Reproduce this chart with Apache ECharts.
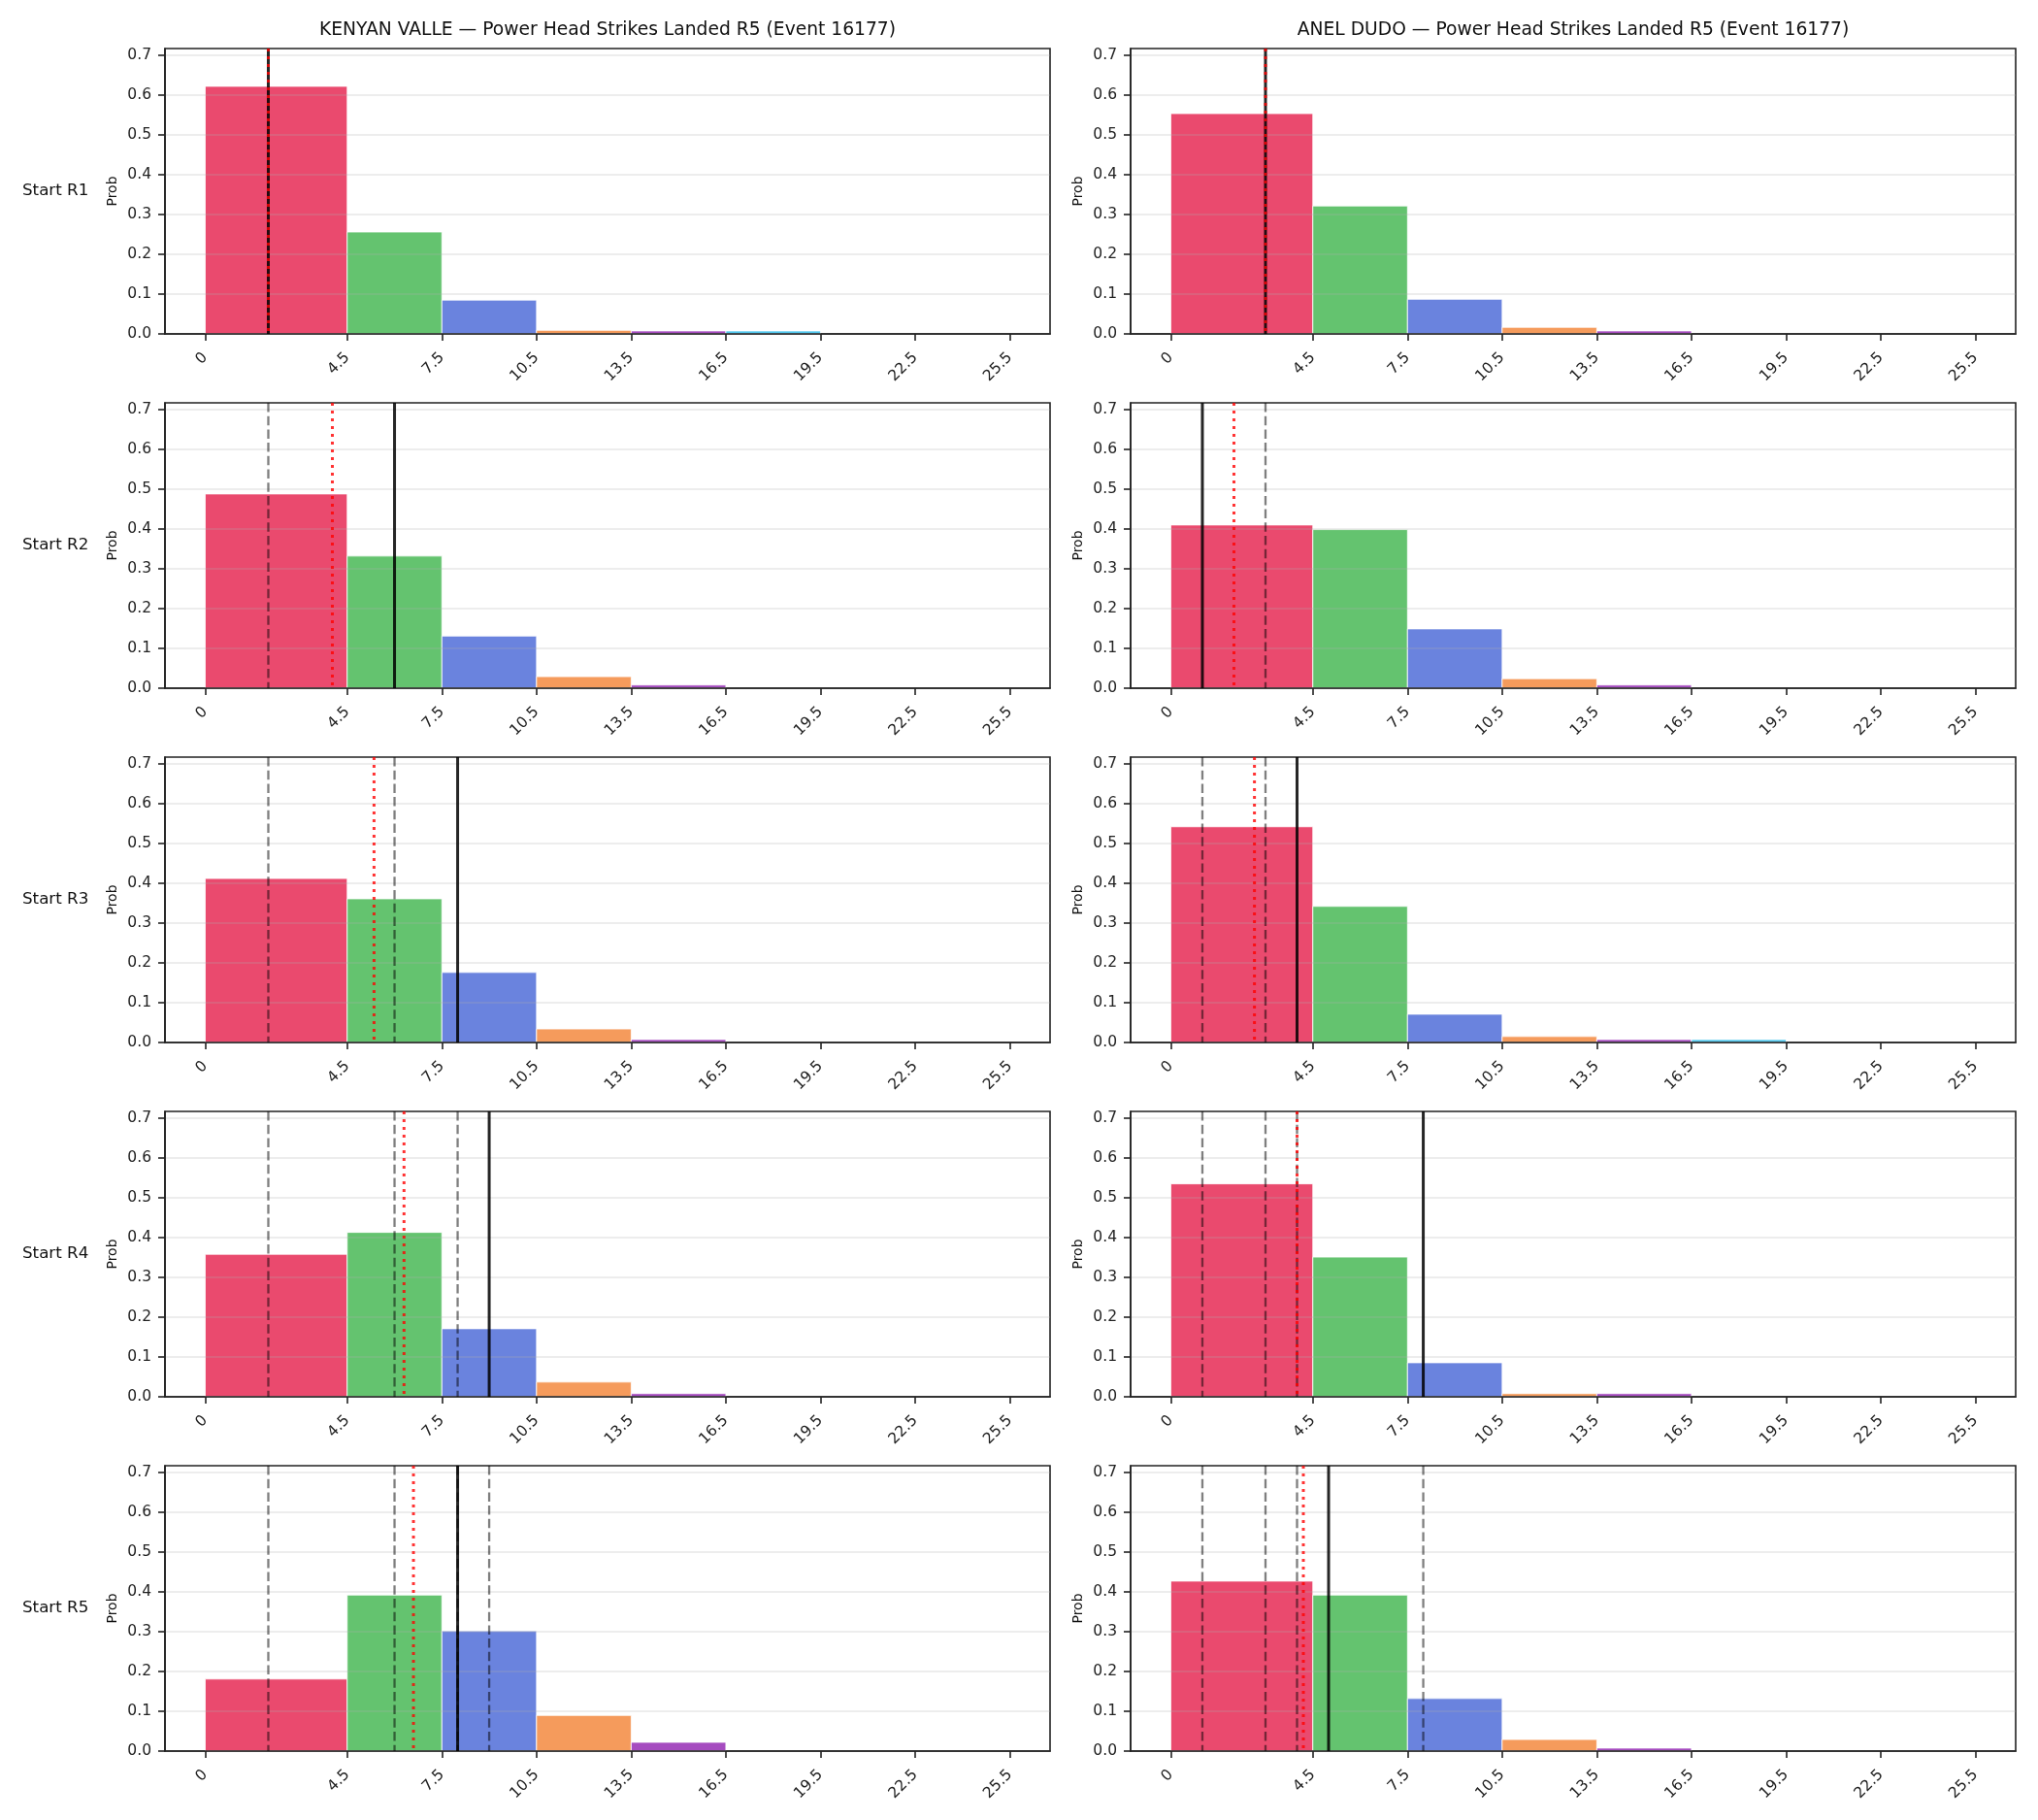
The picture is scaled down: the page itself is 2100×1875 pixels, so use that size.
<!DOCTYPE html>
<html>
<head>
<meta charset="utf-8">
<title>Power Head Strikes Landed R5 (Event 16177)</title>
<script src="https://cdn.jsdelivr.net/npm/echarts@6/dist/echarts.min.js"></script>
<style>
  html, body { margin: 0; padding: 0; background: #fff; }
  #chart { width: 2100px; height: 1875px; }
</style>
</head>
<body>
<div id="chart"></div>
<script>
const fighters = ['KENYAN VALLE', 'ANEL DUDO'];
const titleSuffix = ' — Power Head Strikes Landed R5 (Event 16177)';
const rounds = ['Start R1', 'Start R2', 'Start R3', 'Start R4', 'Start R5'];
const binEdges = [0, 4.5, 7.5, 10.5, 13.5, 16.5, 19.5, 22.5, 25.5];
const yTicks = [0, 0.1, 0.2, 0.3, 0.4, 0.5, 0.6, 0.7];

// probability per bin, one row per starting round
const valleProbs = [
  [0.622, 0.256, 0.085, 0.009, 0.0075, 0.0075, 0, 0],
  [0.488, 0.332, 0.131, 0.029, 0.008, 0, 0, 0],
  [0.412, 0.361, 0.176, 0.034, 0.0075, 0, 0, 0],
  [0.358, 0.413, 0.171, 0.037, 0.008, 0, 0, 0],
  [0.181, 0.392, 0.302, 0.0895, 0.022, 0, 0, 0]
];
const dudoProbs = [
  [0.5535, 0.3215, 0.087, 0.0165, 0.0075, 0, 0, 0],
  [0.41, 0.3985, 0.149, 0.024, 0.008, 0, 0, 0],
  [0.542, 0.342, 0.071, 0.015, 0.0075, 0.0075, 0, 0],
  [0.535, 0.351, 0.0855, 0.008, 0.008, 0, 0, 0],
  [0.427, 0.392, 0.132, 0.029, 0.0075, 0, 0, 0]
];

// solid line = value at start of round, dotted = running mean
const valleNow = [2, 6, 8, 9, 8];
const valleMean = [2, 4.03, 5.35, 6.3, 6.6];
const dudoNow = [3, 1, 4, 8, 5];
const dudoMean = [3, 2, 2.65, 4.0, 4.2];

const binColors = ['#EA4A6E', '#64C36F', '#6A83DE', '#F59B5C', '#A64CC0', '#52C8EE', '#999999', '#999999'];
const FONT = 'DejaVu Sans';
const yMax = 0.717;

const colLeft = [170, 1165];
const rowTop = [50, 415, 780, 1145, 1510];
const plotW = 912, plotH = 294;

const lineStyles = [
  { stroke: 'rgba(0,0,0,0.5)', lineWidth: 2.3, lineDash: [9.5, 4.2] },
  { stroke: 'rgba(0,0,0,0.85)', lineWidth: 3 },
  { stroke: 'rgba(255,0,0,0.8)', lineWidth: 3, lineDash: [3, 5] }
];

function renderBin(params, api) {
  const a = api.coord([api.value(0), api.value(2)]);
  const b = api.coord([api.value(1), 0]);
  return {
    type: 'rect',
    shape: { x: a[0], y: a[1], width: b[0] - a[0], height: b[1] - a[1] },
    style: { fill: binColors[api.value(3)], stroke: '#ffffff', lineWidth: 0.8 }
  };
}

function renderVLine(params, api) {
  const x = api.coord([api.value(0), 0])[0];
  const cs = params.coordSys;
  return {
    type: 'line',
    shape: { x1: x, y1: cs.y, x2: x, y2: cs.y + cs.height },
    style: Object.assign({ fill: null, lineCap: 'butt' }, lineStyles[api.value(1)])
  };
}

const grids = [], xAxes = [], yAxes = [], series = [], graphics = [];
const allProbs = [valleProbs, dudoProbs];
const allNow = [valleNow, dudoNow];
const allMean = [valleMean, dudoMean];

for (let c = 0; c < 2; c++) {
  graphics.push({
    type: 'text', x: colLeft[c] + plotW / 2, y: 31,
    style: { text: fighters[c] + titleSuffix, font: '18.7px "' + FONT + '"', fill: '#111',
      align: 'center', verticalAlign: 'middle', textAlign: 'center', textVerticalAlign: 'middle' }
  });
  for (let r = 0; r < 5; r++) {
    const idx = c * 5 + r;
    grids.push({ left: colLeft[c], top: rowTop[r], width: plotW, height: plotH,
      show: true, borderColor: '#222', borderWidth: 1.6 });
    xAxes.push({
      gridIndex: idx, type: 'value', min: -1.275, max: 26.775, z: 3,
      axisLine: { show: true, onZero: false, lineStyle: { color: '#222', width: 1.6 } },
      axisTick: { show: true, customValues: binEdges, length: 7, lineStyle: { color: '#222', width: 1.6 } },
      axisLabel: { customValues: binEdges, rotate: 45, margin: 22, fontSize: 15.5, fontFamily: FONT, color: '#222' },
      splitLine: { show: false }
    });
    yAxes.push({
      gridIndex: idx, type: 'value', min: 0, max: yMax, z: 3,
      axisLine: { show: true, onZero: false, lineStyle: { color: '#222', width: 1.6 } },
      axisTick: { show: true, customValues: yTicks, length: 7, lineStyle: { color: '#222', width: 1.6 } },
      axisLabel: { customValues: yTicks, margin: 14, fontSize: 15.5, fontFamily: FONT, color: '#222',
        formatter: v => v.toFixed(1) },
      splitLine: { show: true, lineStyle: { color: 'rgba(176,176,176,0.3)', width: 1.6 } }
    });

    const probs = allProbs[c][r];
    series.push({
      type: 'custom', xAxisIndex: idx, yAxisIndex: idx, z: 2,
      renderItem: renderBin,
      data: probs.map((p, i) => [binEdges[i], binEdges[i + 1], p, i]).filter(d => d[2] > 0)
    });

    const lines = allNow[c].slice(0, r).map(v => [v, 0]);
    lines.push([allNow[c][r], 1]);
    lines.push([allMean[c][r], 2]);
    series.push({
      type: 'custom', xAxisIndex: idx, yAxisIndex: idx, z: 4,
      renderItem: renderVLine, data: lines
    });

    graphics.push({
      type: 'text', x: colLeft[c] - 54, y: rowTop[r] + plotH / 2, rotation: Math.PI / 2,
      style: { text: 'Prob', font: '14px "' + FONT + '"', fill: '#111',
        align: 'center', verticalAlign: 'middle', textAlign: 'center', textVerticalAlign: 'middle' }
    });
    if (c === 0) {
      graphics.push({
        type: 'text', x: 23, y: rowTop[r] + plotH / 2,
        style: { text: rounds[r], font: '16.7px "' + FONT + '"', fill: '#111',
          align: 'left', verticalAlign: 'middle', textAlign: 'left', textVerticalAlign: 'middle' }
      });
    }
  }
}

const chart = echarts.init(document.getElementById('chart'), null, { renderer: 'canvas' });
chart.setOption({
  backgroundColor: '#ffffff',
  animation: false,
  textStyle: { fontFamily: FONT },
  grid: grids,
  xAxis: xAxes,
  yAxis: yAxes,
  series: series,
  graphic: { elements: graphics }
});
</script>
</body>
</html>
